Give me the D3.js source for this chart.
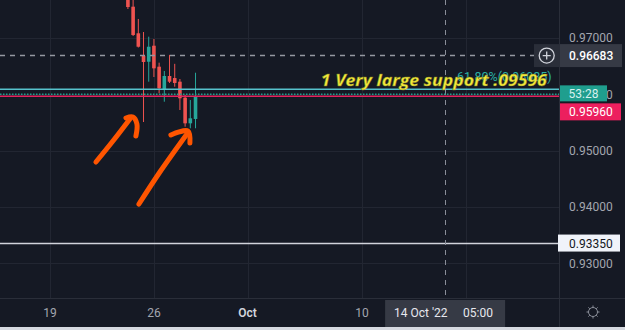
<!DOCTYPE html>
<html>
<head>
<meta charset="utf-8">
<style>
  html, body { margin: 0; padding: 0; background: #151924; overflow: hidden; }
  svg { display: block; font-family: Roboto, "Liberation Sans", sans-serif; }
</style>
</head>
<body>
<svg width="625" height="330"></svg>
<script src="https://cdn.jsdelivr.net/npm/d3@7"></script>
<script>
// candles (bar index 0..13)
const opens  = [0.97846, 0.97550, 0.97078, 0.96676, 0.96574, 0.96858, 0.96486, 0.96073, 0.96321, 0.96285, 0.96220, 0.95936, 0.95482, 0.95559];
const highs  = [0.97917, 0.97700, 0.97332, 0.97101, 0.97018, 0.96977, 0.96557, 0.96410, 0.96696, 0.96537, 0.96268, 0.95984, 0.95895, 0.96379];
const lows   = [0.97509, 0.97030, 0.96826, 0.95505, 0.96220, 0.96303, 0.96014, 0.95865, 0.96197, 0.96131, 0.95718, 0.95422, 0.95394, 0.95394];
const closes = [0.97544, 0.97048, 0.96840, 0.96569, 0.96840, 0.96457, 0.96103, 0.96321, 0.96220, 0.96197, 0.95926, 0.95482, 0.95571, 0.95960];

const priceTicks = [0.93, 0.94, 0.95, 0.96, 0.97];
const timeTickBars = [-15, 5, 23, 45, 65];
const timeTickLabels = ["19", "26", "Oct", "10", "17"];

// horizontal levels
const dashedLevel = 0.96683;
const fibLevel = 0.96085;
const dottedLevel = 0.95996;
const lastPrice = 0.95960;
const supportLevel = 0.93350;

const crossBar = 61;
const crossDate = "14 Oct '22";
const crossTime = "05:00";
const countdown = "53:28";

const noteText = "1 Very large support .09596";
const notePos = [37.1, 0.96135];
const fibText = "61.80%(0.96085)";
const fibTextPos = [63.3, 0.96225];

// hand-drawn arrows, as [bar, price]
const arrow1Shaft = [[-6.15, 0.94796], [-2.88, 0.95168], [0.38, 0.95559]];
const arrow1Head  = [[-0.38, 0.95576], [0.96, 0.95594], [1.73, 0.95470], [1.54, 0.95257]];
const arrow2Shaft = [[2.12, 0.94051], [6.15, 0.94619], [11.35, 0.95293]];
const arrow2Head  = [[8.27, 0.95275], [11.54, 0.95346], [11.92, 0.95133]];

const svg = d3.select("svg"),
      W = 625, H = 330,
      plotW = 559, plotH = 298;

const up = "#26a69a", down = "#ef5350";

const x = d3.scaleLinear().domain([-24.6, 82.9]).range([0, plotW]);
const y = d3.scaleLinear().domain([0.93, 0.97]).range([263.3, 37.7]);

svg.append("rect").attr("width", W).attr("height", H).attr("fill", "#151924");

svg.append("defs").append("clipPath").attr("id", "plot")
  .append("rect").attr("width", plotW).attr("height", plotH);

const g = svg.append("g").attr("clip-path", "url(#plot)");

// grid
g.selectAll(".hgrid").data(priceTicks).join("line")
  .attr("x1", 0).attr("x2", plotW)
  .attr("y1", d => Math.round(y(d)) + 0.5).attr("y2", d => Math.round(y(d)) + 0.5)
  .attr("stroke", "#222632");
g.selectAll(".vgrid").data(timeTickBars).join("line")
  .attr("x1", d => Math.round(x(d)) + 0.5).attr("x2", d => Math.round(x(d)) + 0.5)
  .attr("y1", 0).attr("y2", plotH)
  .attr("stroke", "#222632");

// support line (behind candles)
g.append("line")
  .attr("x1", 0).attr("x2", plotW)
  .attr("y1", y(supportLevel)).attr("y2", y(supportLevel))
  .attr("stroke", "#d1d4dc").attr("stroke-width", 1.5);

// crosshair
g.append("line")
  .attr("x1", Math.round(x(crossBar)) + 0.5).attr("x2", Math.round(x(crossBar)) + 0.5)
  .attr("y1", 0).attr("y2", plotH)
  .attr("stroke", "#8a8e99").attr("stroke-dasharray", "5,5");

// candles
const bw = 3.6;
const idx = d3.range(opens.length);
g.selectAll(".wick").data(idx).join("line")
  .attr("x1", i => x(i)).attr("x2", i => x(i))
  .attr("y1", i => y(highs[i])).attr("y2", i => y(lows[i]))
  .attr("stroke", i => closes[i] >= opens[i] ? up : down)
  .attr("stroke-width", 1);
g.selectAll(".body").data(idx).join("rect")
  .attr("x", i => x(i) - bw / 2)
  .attr("width", bw)
  .attr("y", i => y(Math.max(opens[i], closes[i])))
  .attr("height", i => Math.max(1, Math.abs(y(opens[i]) - y(closes[i]))))
  .attr("fill", i => closes[i] >= opens[i] ? up : down);

// level lines
g.append("line")
  .attr("x1", 0).attr("x2", 534)
  .attr("y1", y(dashedLevel)).attr("y2", y(dashedLevel))
  .attr("stroke", "#9598a1").attr("stroke-width", 1.5).attr("stroke-dasharray", "5,5");
g.append("line")
  .attr("x1", 0).attr("x2", plotW)
  .attr("y1", y(fibLevel)).attr("y2", y(fibLevel))
  .attr("stroke", "#56c2cc").attr("stroke-width", 1.5);
g.append("line")
  .attr("x1", 0).attr("x2", plotW)
  .attr("y1", y(dottedLevel)).attr("y2", y(dottedLevel))
  .attr("stroke", "#1f9e8c").attr("stroke-width", 1.5).attr("stroke-dasharray", "1.5,1.5");
g.append("line")
  .attr("x1", 0).attr("x2", plotW)
  .attr("y1", y(lastPrice)).attr("y2", y(lastPrice))
  .attr("stroke", "#e3245e").attr("stroke-width", 1.5);

// arrows
const lineGen = d3.line().x(d => x(d[0])).y(d => y(d[1])).curve(d3.curveCatmullRom);
[arrow1Shaft, arrow1Head, arrow2Shaft, arrow2Head].forEach(pts => {
  g.append("path")
    .attr("d", lineGen(pts))
    .attr("fill", "none")
    .attr("stroke", "#ff5500")
    .attr("stroke-width", 5)
    .attr("stroke-linecap", "round")
    .attr("stroke-linejoin", "round");
});

// fib label and note
g.append("text")
  .attr("x", x(fibTextPos[0])).attr("y", y(fibTextPos[1]))
  .attr("fill", "#2ab0a4").attr("font-size", 12.5)
  .text(fibText);
g.append("text")
  .attr("x", x(notePos[0])).attr("y", y(notePos[1]))
  .attr("fill", "#f3ea3a")
  .attr("stroke", "#7a7722").attr("stroke-width", 0.4)
  .attr("font-family", "'Open Sans', 'DejaVu Sans', sans-serif")
  .attr("font-style", "italic").attr("font-weight", "bold")
  .attr("font-size", 16.5)
  .attr("textLength", 226).attr("lengthAdjust", "spacingAndGlyphs")
  .text(noteText);

// axis borders
svg.append("line").attr("x1", plotW + 0.5).attr("x2", plotW + 0.5).attr("y1", 0).attr("y2", H)
  .attr("stroke", "#2a2e39");
svg.append("line").attr("x1", 0).attr("x2", W).attr("y1", plotH + 0.5).attr("y2", plotH + 0.5)
  .attr("stroke", "#2a2e39");

// price axis labels
svg.selectAll(".ptick").data(priceTicks).join("text")
  .attr("x", 569).attr("y", d => y(d) + 4.5)
  .attr("fill", "#a3a6af").attr("font-size", 12)
  .text(d => d3.format(".5f")(d));

// dashed level label with + button
svg.append("rect").attr("x", 534).attr("y", y(dashedLevel) - 11.5).attr("width", 26).attr("height", 23)
  .attr("fill", "#2a2e39");
svg.append("circle").attr("cx", 546.7).attr("cy", y(dashedLevel)).attr("r", 7.5)
  .attr("fill", "none").attr("stroke", "#d1d4dc").attr("stroke-width", 1.3);
svg.append("path")
  .attr("d", `M542.7,${y(dashedLevel)}h8M546.7,${y(dashedLevel) - 4}v8`)
  .attr("stroke", "#d1d4dc").attr("stroke-width", 1.3);
svg.append("rect").attr("x", 560).attr("y", y(dashedLevel) - 11.5).attr("width", 62).attr("height", 23)
  .attr("fill", "#363a45");
svg.append("text").attr("x", 569).attr("y", y(dashedLevel) + 4.5)
  .attr("fill", "#ffffff").attr("font-size", 12).attr("font-weight", 500)
  .text(d3.format(".5f")(dashedLevel));

// countdown and last price
svg.append("rect").attr("x", 560).attr("y", y(lastPrice) - 11).attr("width", 47).attr("height", 16)
  .attr("fill", "#1f9e8e");
svg.append("text").attr("x", 583.5).attr("y", y(lastPrice) + 1.5).attr("text-anchor", "middle")
  .attr("fill", "#d8f1ee").attr("font-size", 12)
  .text(countdown);
svg.append("rect").attr("x", 560).attr("y", y(lastPrice) + 7).attr("width", 61).attr("height", 17)
  .attr("fill", "#ec1f5e");
svg.append("text").attr("x", 569).attr("y", y(lastPrice) + 20)
  .attr("fill", "#ffffff").attr("font-size", 12)
  .text(d3.format(".5f")(lastPrice));

// support label
svg.append("rect").attr("x", 558).attr("y", y(supportLevel) - 9).attr("width", 62).attr("height", 17)
  .attr("fill", "#f0f3fa");
svg.append("text").attr("x", 569).attr("y", y(supportLevel) + 4.5)
  .attr("fill", "#131722").attr("font-size", 12)
  .text(d3.format(".5f")(supportLevel));

// time axis labels (the one under the crosshair box stays hidden)
const crossX = x(crossBar);
const shownTicks = timeTickBars.filter(d => Math.abs(x(d) - crossX) > 60);
svg.selectAll(".ttick").data(shownTicks).join("text")
  .attr("x", d => x(d)).attr("y", 317)
  .attr("text-anchor", "middle")
  .attr("fill", d => timeTickLabels[timeTickBars.indexOf(d)] === "Oct" ? "#d1d4dc" : "#a3a6af")
  .attr("font-weight", d => timeTickLabels[timeTickBars.indexOf(d)] === "Oct" ? 600 : 400)
  .attr("font-size", 12)
  .text(d => timeTickLabels[timeTickBars.indexOf(d)]);

// crosshair date box
svg.append("rect").attr("x", crossX - 60).attr("y", 300).attr("width", 120).attr("height", 27)
  .attr("fill", "#363a45");
svg.append("text").attr("x", crossX - 51).attr("y", 317)
  .attr("fill", "#e6e8ee").attr("font-size", 12).text(crossDate);
svg.append("text").attr("x", crossX + 18).attr("y", 317)
  .attr("fill", "#e6e8ee").attr("font-size", 12).text(crossTime);

// settings icon
const icon = svg.append("g").attr("transform", "translate(593,312)")
  .attr("stroke", "#8a8e99").attr("fill", "none").attr("stroke-width", 1);
icon.append("circle").attr("r", 4.5);
d3.range(8).forEach(k => {
  const a = k * Math.PI / 4;
  icon.append("line")
    .attr("x1", Math.cos(a) * 4.5).attr("y1", Math.sin(a) * 4.5)
    .attr("x2", Math.cos(a) * 6.5).attr("y2", Math.sin(a) * 6.5);
});

// bottom strip
svg.append("rect").attr("x", 0).attr("y", 327).attr("width", W).attr("height", 3).attr("fill", "#d6d9e0");
</script>
</body>
</html>
